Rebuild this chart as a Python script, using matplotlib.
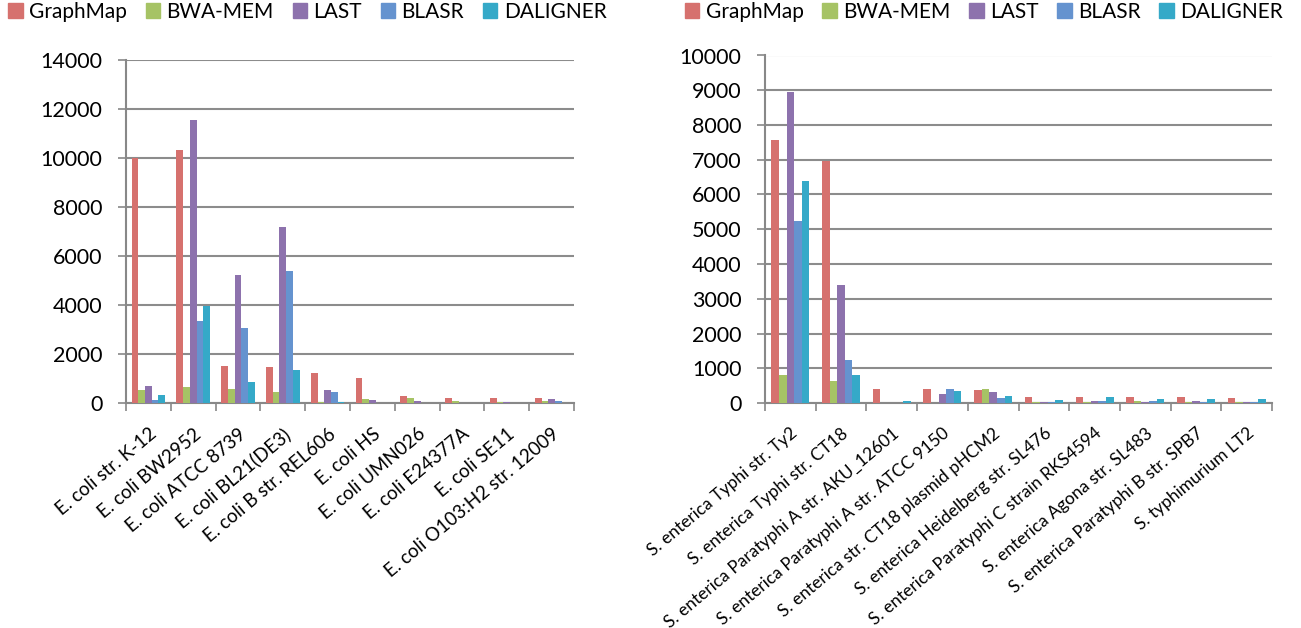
import matplotlib.pyplot as plt
import numpy as np
from matplotlib.patches import Patch

plt.rcParams['font.family'] = ['Lato', 'DejaVu Sans']

tools = ['GraphMap', 'BWA-MEM', 'LAST', 'BLASR', 'DALIGNER']
colors = ['#D6716E', '#A6C365', '#8D72AD', '#6593CF', '#35A9C8']

# E. coli (left)
ecoli = ['E. coli str. K-12', 'E. coli BW2952', 'E. coli ATCC 8739', 'E. coli BL21(DE3)',
         'E. coli B str. REL606', 'E. coli HS', 'E. coli UMN026', 'E. coli E24377A',
         'E. coli SE11', 'E. coli O103:H2 str. 12009']
ecoli_graphmap = [10000, 10340, 1520, 1480, 1210, 1030, 300, 215, 215, 215]
ecoli_bwamem = [540, 640, 570, 435, 50, 150, 190, 80, 30, 70]
ecoli_last = [700, 11560, 5220, 7200, 540, 120, 90, 0, 40, 150]
ecoli_blasr = [130, 3360, 3050, 5400, 435, 0, 0, 0, 0, 80]
ecoli_daligner = [325, 3970, 870, 1360, 30, 0, 0, 0, 0, 0]

# Salmonella (right)
salm = ['S. enterica Typhi str. Ty2', 'S. enterica Typhi str. CT18',
        'S. enterica Paratyphi A str. AKU_12601', 'S. enterica Paratyphi A str. ATCC 9150',
        'S. enterica str. CT18 plasmid pHCM2', 'S. enterica Heidelberg str. SL476',
        'S. enterica Paratyphi C strain RKS4594', 'S. enterica Agona str. SL483',
        'S. enterica Paratyphi B str. SPB7', 'S. typhimurium LT2']
salm_graphmap = [7580, 6970, 400, 400, 375, 180, 180, 180, 180, 150]
salm_bwamem = [810, 640, 0, 0, 400, 30, 40, 60, 40, 40]
salm_last = [8960, 3400, 0, 260, 325, 40, 50, 25, 50, 20]
salm_blasr = [5235, 1245, 0, 400, 150, 40, 50, 50, 40, 15]
salm_daligner = [6395, 795, 50, 340, 210, 95, 180, 110, 110, 120]

fig = plt.figure(figsize=(13.01, 6.28), dpi=100)
ax1 = fig.add_axes([126 / 1301, 1 - 403 / 628, 448 / 1301, 343 / 628])
ax2 = fig.add_axes([765 / 1301, 1 - 403 / 628, 507 / 1301, 347.5 / 628])


def draw(ax, cats, series, ymax, step, xfs):
    x = np.arange(len(cats))
    w = 0.15
    for i, vals in enumerate(series):
        ax.bar(x + (i - 2) * w, vals, w, color=colors[i], edgecolor='none', zorder=3)
    ax.set_xlim(-0.5, len(cats) - 0.5)
    ax.set_ylim(0, ymax)
    ax.set_yticks(np.arange(0, ymax + 1, step))
    ax.tick_params(axis='y', labelsize=15.5, length=6, color='#888888', width=1.2, pad=11)
    ax.set_xticks(x)
    ax.set_xticklabels(cats, rotation=40, ha='right', rotation_mode='anchor', fontsize=xfs)
    ax.tick_params(axis='x', which='major', length=0, pad=16)
    ax.set_xticks(np.arange(-0.5, len(cats)), minor=True)
    ax.tick_params(axis='x', which='minor', length=6, color='#888888', width=1.2)
    ax.grid(axis='y', color='#8c8c8c', linewidth=1.5, zorder=0)
    for s in ['top', 'right']:
        ax.spines[s].set_visible(False)
    for s in ['left', 'bottom']:
        ax.spines[s].set_color('#888888')
        ax.spines[s].set_linewidth(1.5)


draw(ax1, ecoli, [ecoli_graphmap, ecoli_bwamem, ecoli_last, ecoli_blasr, ecoli_daligner], 14000, 2000, 13.5)
draw(ax2, salm, [salm_graphmap, salm_bwamem, salm_last, salm_blasr, salm_daligner], 10000, 1000, 12.5)

handles = [Patch(color=c, label=t) for c, t in zip(colors, tools)]
for xpos in [0.0, 683 / 1301 - 0.005]:
    fig.legend(handles=handles, loc='upper left', bbox_to_anchor=(xpos, 1.01), ncol=5,
               frameon=False, fontsize=15, handlelength=0.7, handleheight=0.7,
               handletextpad=0.3, columnspacing=0.9, borderaxespad=0)

fig.savefig('out.png', dpi=100)
